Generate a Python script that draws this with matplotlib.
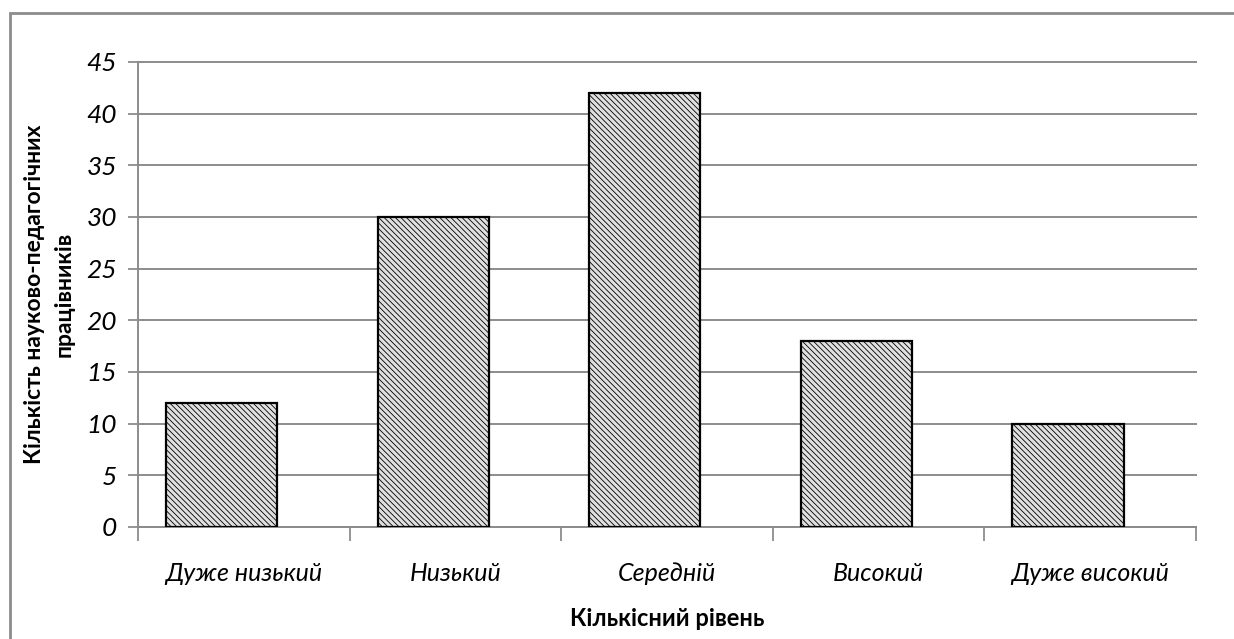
import matplotlib.pyplot as plt
import matplotlib.patches as mpatches

# Data
categories = ["Дуже низький", "Низький", "Середній", "Високий", "Дуже високий"]
values = [12, 30, 42, 18, 10]

plt.rcParams["font.family"] = ["Lato", "DejaVu Sans"]
plt.rcParams["hatch.color"] = "#b8b8b8"
plt.rcParams["hatch.linewidth"] = 0.6

fig = plt.figure(figsize=(12.34, 6.39), dpi=100)
ax = fig.add_axes([0.1118, 0.1753, 0.8574, 0.7277])

x = list(range(len(categories)))
# bars sit a bit left of the category centre, like in the original
bar_x = [i - 0.105 for i in x]
ax.bar(bar_x, values, width=0.525, color="#e0e0e0", edgecolor="black",
       linewidth=1.6, hatch="\\\\\\\\\\\\", zorder=3)

ax.set_xlim(-0.5, len(categories) - 0.5)
ax.set_ylim(0, 45)
ax.set_yticks(range(0, 46, 5))
ax.yaxis.grid(True, color="#8c8c8c", linewidth=1.4, zorder=0)
for gl in ax.get_ygridlines():
    gl.set_clip_on(False)

ax.set_xticks(x)
ax.set_xticklabels(categories, fontsize=18, fontstyle="italic")
ax.tick_params(axis="x", length=0, pad=25)
ax.set_xticks([i - 0.5 for i in range(len(categories) + 1)], minor=True)
ax.tick_params(axis="x", which="minor", length=10, width=1.3, color="#8c8c8c")
ax.tick_params(axis="y", labelsize=19, length=7, width=1.3, color="#8c8c8c", pad=8)
for lab in ax.get_yticklabels():
    lab.set_fontstyle("italic")

for s in ["top", "right"]:
    ax.spines[s].set_visible(False)
for s in ["left", "bottom"]:
    ax.spines[s].set_color("#8c8c8c")
    ax.spines[s].set_linewidth(1.4)

ax.set_xlabel("Кількісний рівень", fontsize=17, fontweight="bold", labelpad=16)
ax.set_ylabel("Кількість науково-педагогічних\nпрацівників", fontsize=16.5,
              fontweight="bold", labelpad=9, linespacing=1.5)

# Outer chart border
border = mpatches.Rectangle((10 / 1234, -0.1), 1.2, 1.1 - 13 / 639,
                            transform=fig.transFigure, fill=False,
                            edgecolor="#8c8c8c", linewidth=2)
fig.patches.append(border)

plt.savefig("out.png", dpi=100)
